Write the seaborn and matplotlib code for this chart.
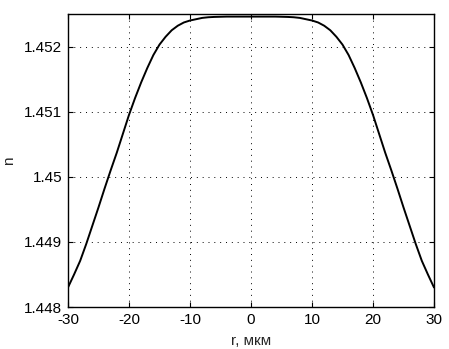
import numpy as np
import seaborn as sns
import matplotlib
matplotlib.use("Agg")
import matplotlib.pyplot as plt
from matplotlib.ticker import FuncFormatter

# profile, r in um
r_um = [-30, -29, -28, -27, -26, -25, -24, -23, -22, -21, -20, -19, -18, -17,
        -16, -15, -14, -13, -12, -11, -10, -9, -8, -7, -6, -4, -2, 0, 2, 4,
        6, 7, 8, 9, 10, 11, 12, 13, 14, 15, 16, 17, 18, 19, 20, 21, 22, 23,
        24, 25, 26, 27, 28, 29, 30]
n_val = [1.44830, 1.44850, 1.44871, 1.44897, 1.44925, 1.44953, 1.44982,
         1.45010, 1.45037, 1.45066, 1.45095, 1.45121, 1.45145, 1.45167,
         1.45187, 1.45203, 1.45215, 1.45225, 1.45232, 1.45237, 1.45240,
         1.45242, 1.45244, 1.45245, 1.452455, 1.45246, 1.45246, 1.45246,
         1.45246, 1.45246, 1.452455, 1.45245, 1.45244, 1.45242, 1.45240,
         1.45237, 1.45232, 1.45225, 1.45215, 1.45203, 1.45187, 1.45167,
         1.45145, 1.45121, 1.45095, 1.45066, 1.45037, 1.45010, 1.44982,
         1.44953, 1.44925, 1.44897, 1.44871, 1.44850, 1.44830]

x_ticks = [-30, -20, -10, 0, 10, 20, 30]
y_ticks = [1.448, 1.449, 1.450, 1.451, 1.452]

sns.set_style("ticks")
plt.rcParams["font.family"] = ["Liberation Sans", "DejaVu Sans"]
plt.rcParams["axes.unicode_minus"] = False

fig = plt.figure(figsize=(4.49, 3.49), dpi=100)
ax = fig.add_axes([0.1514, 0.1203, 0.8152, 0.8396])

sns.lineplot(x=r_um, y=n_val, color="black", linewidth=1.4, ax=ax,
             sort=False, estimator=None)

ax.set_xlim(-30, 30)
ax.set_ylim(1.448, 1.4525)
ax.set_xticks(x_ticks)
ax.set_yticks(y_ticks)
ax.yaxis.set_major_formatter(FuncFormatter(lambda v, p: "%g" % v))
ax.xaxis.set_major_formatter(FuncFormatter(lambda v, p: "%g" % v))

ax.grid(True, color="black", linestyle=(0, (1, 5)), linewidth=0.7)
ax.tick_params(direction="in", length=3.5, width=0.8, top=True, right=True,
               labelsize=11, pad=4, colors="black")
for s in ax.spines.values():
    s.set_visible(True)
    s.set_color("black")
    s.set_linewidth(1.0)

ax.set_xlabel("r, мкм", fontsize=11, labelpad=5)
ax.set_ylabel("n", fontsize=11, labelpad=6)

fig.savefig("out.png", dpi=100)
